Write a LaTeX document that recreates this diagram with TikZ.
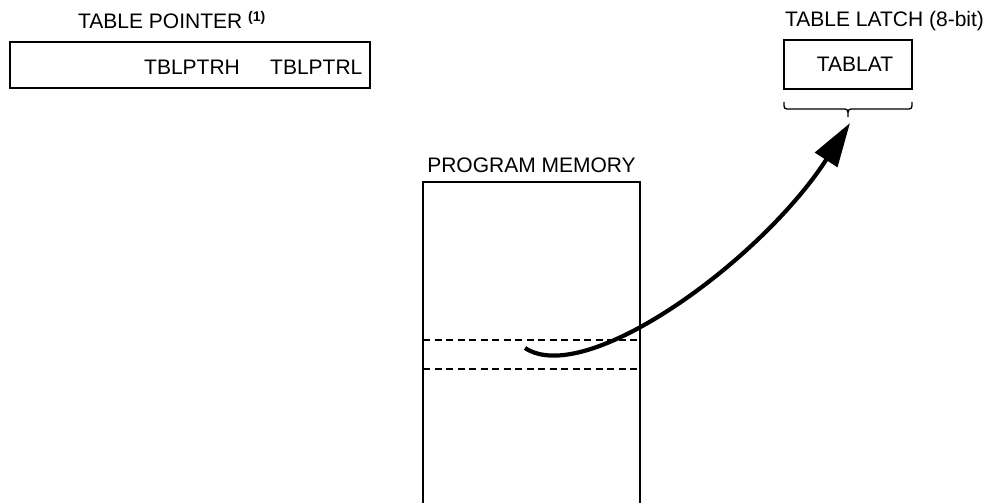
\documentclass[tikz,border=0pt]{standalone}
\usepackage{fontspec}
\setmainfont{Liberation Sans}
\usetikzlibrary{arrows.meta}
\begin{document}
\begin{tikzpicture}[x=1pt,y=-1pt,
  lbl/.style={inner sep=0pt,anchor=base west,font=\fontsize{21}{24}\selectfont},
  regbox/.style={draw,line width=2pt,inner sep=0pt},
  sepline/.style={line width=1.8pt,dash pattern=on 7pt off 4.5pt},
  flow/.style={line width=4.2pt,-{Triangle[length=44pt,width=26pt]}}]
\useasboundingbox (0,0) rectangle (989,503);
% table pointer
\node[lbl] (tptitle) at (78,29) {TABLE POINTER \raisebox{7pt}{\fontsize{14}{14}\selectfont\bfseries(1)}};
\node[regbox,minimum width=360pt,minimum height=46pt] (tpbox) at (190,65) {};
\node[lbl] (tblptrh) at (144,75) {TBLPTRH};
\node[lbl] (tblptrl) at (270,75) {TBLPTRL};
% table latch
\node[lbl] (tltitle) at (785,27) {TABLE LATCH (8-bit)};
\node[regbox,minimum width=128pt,minimum height=49pt] (tlbox) at (848,64.5) {};
\node[lbl,anchor=base] (tablat) at (855,72) {TABLAT};
\draw[line width=1.3pt] (784,102) .. controls (784,109) .. (790,109) -- (842,109)
  .. controls (848,109) .. (848,117) coordinate (bracetip)
  .. controls (848,109) .. (854,109) -- (906,109) .. controls (912,109) .. (912,102);
% program memory
\node[lbl,anchor=base] (pmtitle) at (531.5,172) {PROGRAM MEMORY};
\draw[line width=2pt] (423,504) -- (423,182) -- (640,182) -- (640,504);
\coordinate (rowtopL) at (423,340);
\coordinate (rowtopR) at (640,340);
\coordinate (rowbotL) at (423,369);
\coordinate (rowbotR) at (640,369);
\draw[sepline] (rowtopL) -- (rowtopR);
\draw[sepline] (rowbotL) -- (rowbotR);
% table read flow
\coordinate (src) at (525,348);
\coordinate (tip) at (850,123);
\draw[flow] (src) .. controls (585,388) and (760,262) .. (tip);
\end{tikzpicture}
\end{document}
